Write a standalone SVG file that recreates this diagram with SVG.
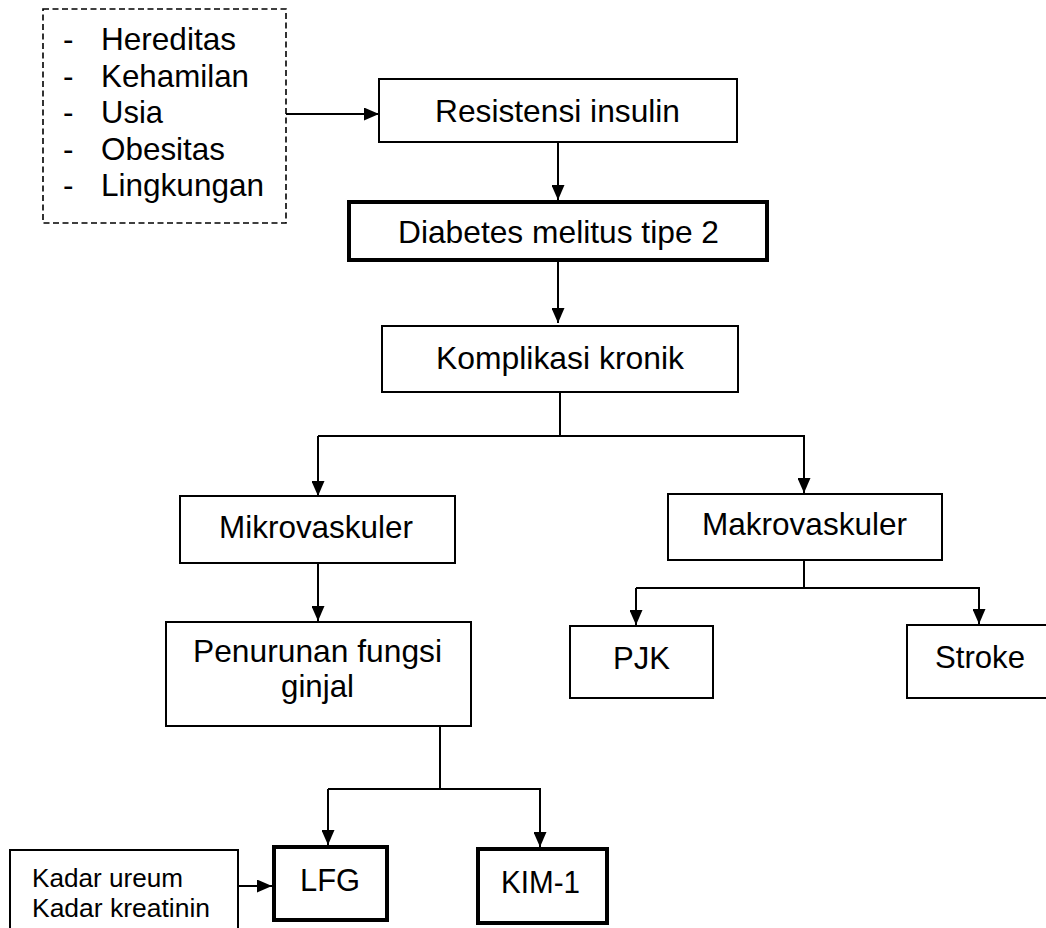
<svg xmlns="http://www.w3.org/2000/svg" width="1046" height="928" viewBox="0 0 1046 928">
<defs>
<style>
.box{fill:#fff;stroke:#000;stroke-width:2}
.thick{fill:#fff;stroke:#000;stroke-width:4}
.dash{fill:none;stroke:#000;stroke-width:1.6;stroke-dasharray:6,3.5}
.ln{fill:none;stroke:#000;stroke-width:2}
.t{font-family:"Liberation Sans",Arial,sans-serif;font-size:31.5px;fill:#000}
.s{font-family:"Liberation Sans",Arial,sans-serif;font-size:25px;fill:#000}
</style>
<marker id="ah" viewBox="0 0 15 13" refX="15" refY="6.5" markerWidth="15" markerHeight="13" markerUnits="userSpaceOnUse" orient="auto">
<path d="M0,0 L15,6.5 L0,13 Z" fill="#000"/>
</marker>
</defs>
<rect width="1046" height="928" fill="#fff"/>
<g id="connectors">
<line class="ln" x1="286" y1="114" x2="379" y2="114" marker-end="url(#ah)"/>
<line class="ln" x1="558" y1="142" x2="558" y2="200" marker-end="url(#ah)"/>
<line class="ln" x1="558" y1="260" x2="558" y2="323" marker-end="url(#ah)"/>
<polyline class="ln" points="560,392 560,436"/>
<polyline class="ln" points="318,436 804,436 804,493" marker-end="url(#ah)"/>
<line class="ln" x1="318" y1="436" x2="318" y2="496" marker-end="url(#ah)"/>
<polyline class="ln" points="804,560 804,588"/>
<polyline class="ln" points="636,588 979,588 979,624" marker-end="url(#ah)"/>
<line class="ln" x1="636" y1="588" x2="636" y2="625" marker-end="url(#ah)"/>
<line class="ln" x1="318" y1="563" x2="318" y2="621" marker-end="url(#ah)"/>
<polyline class="ln" points="440,726 440,789"/>
<polyline class="ln" points="328,789 540,789 540,847" marker-end="url(#ah)"/>
<line class="ln" x1="328" y1="789" x2="328" y2="845" marker-end="url(#ah)"/>
<line class="ln" x1="238" y1="886" x2="272" y2="886" marker-end="url(#ah)"/>
</g>
<g id="faktor">
<rect class="dash" x="43" y="9" width="243" height="214"/>
<text class="t" x="63" y="50">-</text><text class="t" x="101" y="50" textLength="135" lengthAdjust="spacingAndGlyphs">Hereditas</text>
<text class="t" x="63" y="86.5">-</text><text class="t" x="101" y="86.5" textLength="148" lengthAdjust="spacingAndGlyphs">Kehamilan</text>
<text class="t" x="63" y="123">-</text><text class="t" x="101" y="123" textLength="62" lengthAdjust="spacingAndGlyphs">Usia</text>
<text class="t" x="63" y="159.5">-</text><text class="t" x="101" y="159.5" textLength="124" lengthAdjust="spacingAndGlyphs">Obesitas</text>
<text class="t" x="63" y="196">-</text><text class="t" x="101" y="196" textLength="163" lengthAdjust="spacingAndGlyphs">Lingkungan</text>
</g>
<g id="resistensi">
<rect class="box" x="379" y="79" width="358" height="63"/>
<text class="t" x="435" y="122" textLength="245" lengthAdjust="spacingAndGlyphs">Resistensi insulin</text>
</g>
<g id="dm2">
<rect class="thick" x="349" y="202" width="418" height="58"/>
<text class="t" x="398" y="243" textLength="321" lengthAdjust="spacingAndGlyphs">Diabetes melitus tipe 2</text>
</g>
<g id="komplikasi">
<rect class="box" x="382" y="326" width="356" height="66"/>
<text class="t" x="436" y="369" textLength="248" lengthAdjust="spacingAndGlyphs">Komplikasi kronik</text>
</g>
<g id="mikro">
<rect class="box" x="180" y="496" width="275" height="67"/>
<text class="t" x="219" y="538" textLength="194" lengthAdjust="spacingAndGlyphs">Mikrovaskuler</text>
</g>
<g id="makro">
<rect class="box" x="668" y="494" width="274" height="66"/>
<text class="t" x="702" y="535" textLength="205" lengthAdjust="spacingAndGlyphs">Makrovaskuler</text>
</g>
<g id="pjk">
<rect class="box" x="570" y="626" width="143" height="72"/>
<text class="t" x="613" y="669" textLength="57" lengthAdjust="spacingAndGlyphs">PJK</text>
</g>
<g id="stroke">
<rect class="box" x="907" y="625" width="150" height="73"/>
<text class="t" x="935" y="668" textLength="90" lengthAdjust="spacingAndGlyphs">Stroke</text>
</g>
<g id="penurunan">
<rect class="box" x="166" y="622" width="305" height="104"/>
<text class="t" x="193" y="662" textLength="249" lengthAdjust="spacingAndGlyphs">Penurunan fungsi</text>
<text class="t" x="281" y="697" textLength="73" lengthAdjust="spacingAndGlyphs">ginjal</text>
</g>
<g id="kadar">
<rect class="box" x="10" y="850" width="228" height="100"/>
<text class="s" x="32" y="887" textLength="151" lengthAdjust="spacingAndGlyphs">Kadar ureum</text>
<text class="s" x="32" y="917" textLength="178" lengthAdjust="spacingAndGlyphs">Kadar kreatinin</text>
</g>
<g id="lfg">
<rect class="thick" x="274" y="847" width="113" height="73"/>
<text class="t" x="300" y="891" textLength="60" lengthAdjust="spacingAndGlyphs">LFG</text>
</g>
<g id="kim1">
<rect class="thick" x="478" y="849" width="129" height="74"/>
<text class="t" x="501" y="893" textLength="79" lengthAdjust="spacingAndGlyphs">KIM-1</text>
</g>
</svg>
